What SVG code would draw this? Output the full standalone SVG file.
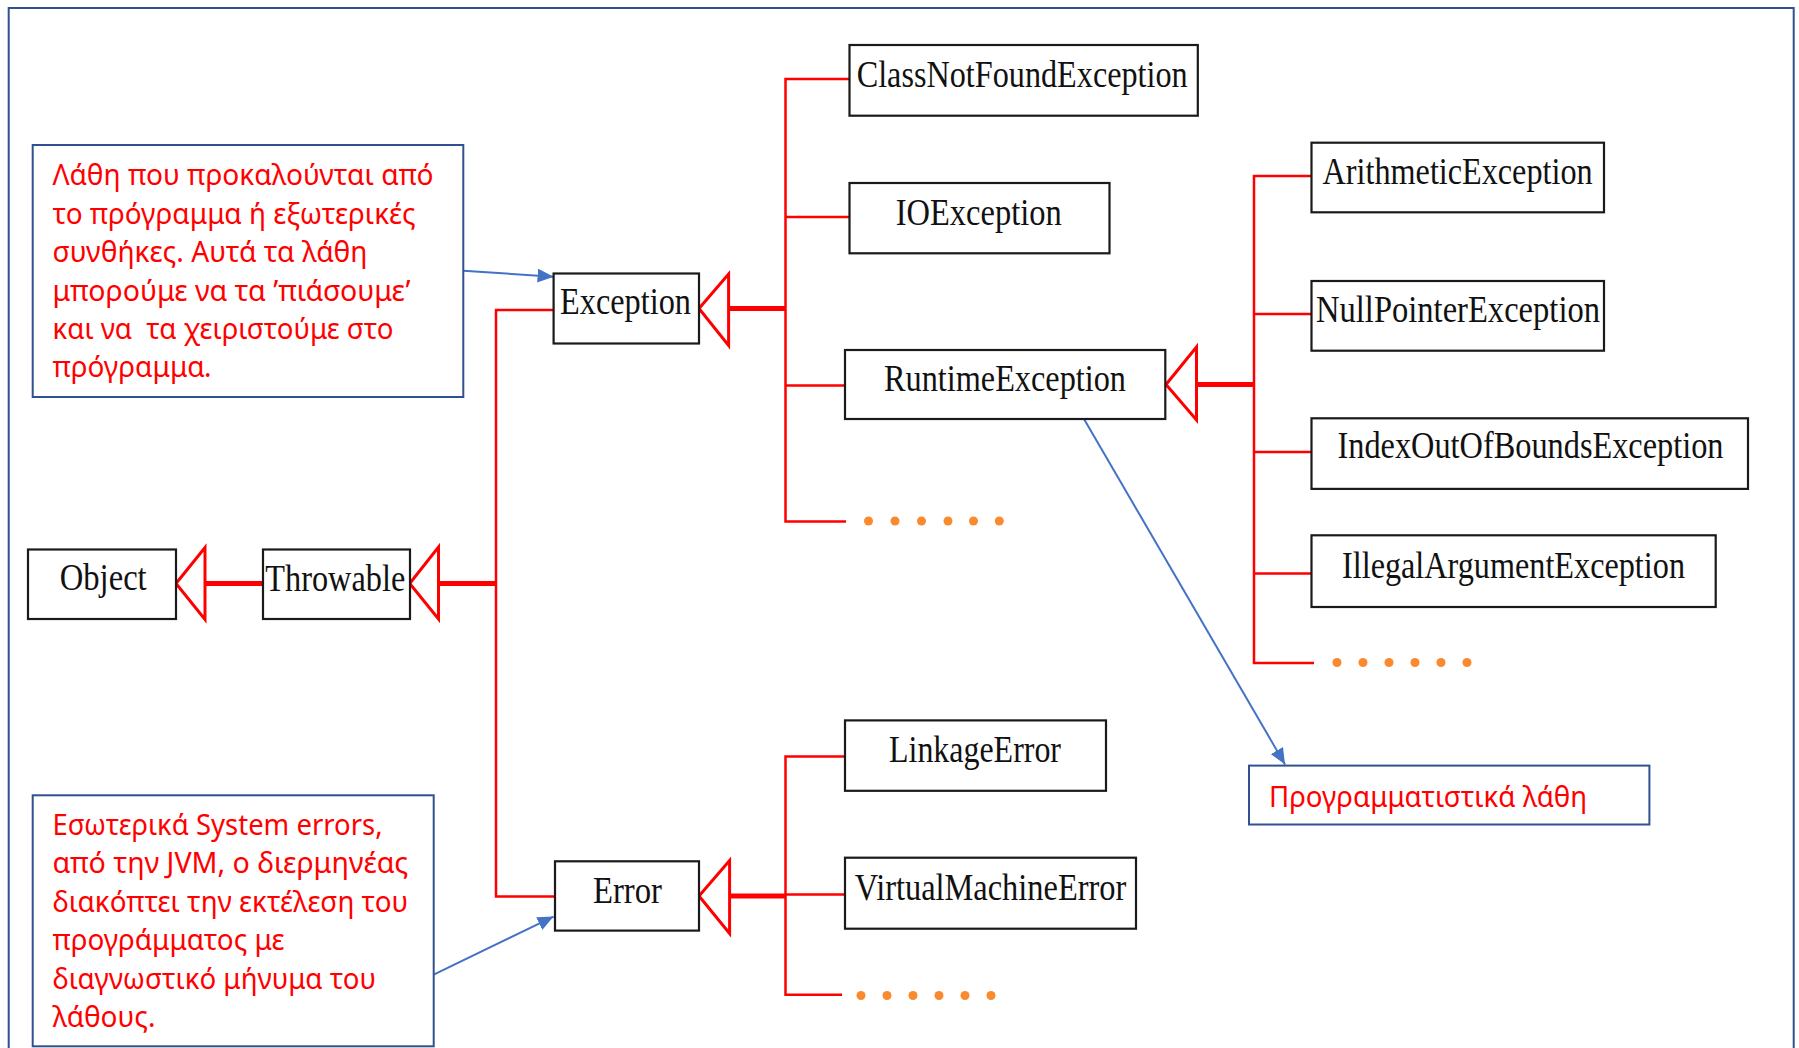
<svg xmlns="http://www.w3.org/2000/svg" width="1799" height="1048" viewBox="0 0 1799 1048">
<style>
.bg{fill:#ffffff}
.frame{fill:none;stroke:#2F528F;stroke-width:2}
.node rect{fill:#ffffff;stroke:#1a1a1a;stroke-width:2.2}
.node text{font-family:"Liberation Serif","Times New Roman",serif;font-size:37px;fill:#111}
.tri{fill:#ffffff;stroke:#FF0000;stroke-width:3;stroke-linejoin:miter}
.thick{stroke:#FF0000;stroke-width:5;fill:none}
.thin{stroke:#FF0000;stroke-width:2.5;fill:none}
.dot{fill:#FA8A2E}
.callout rect{fill:#ffffff;stroke:#2F528F;stroke-width:2}
.callout text{font-family:"Noto Sans","Open Sans","Liberation Sans",sans-serif;font-size:29px;fill:#FF0000}
.blue{stroke:#4472C4;stroke-width:2;fill:none}
</style>
<defs>
<marker id="ah" markerUnits="userSpaceOnUse" markerWidth="18" markerHeight="14" refX="16" refY="7" orient="auto">
<path d="M0,0 L16,7 L0,14 Z" fill="#4472C4"/>
</marker>
</defs>
<rect class="bg" x="0" y="0" width="1799" height="1048"/>
<rect class="frame" x="8.7" y="8" width="1785" height="1100"/>

<g id="connectors">
<polygon class="tri" points="176,583.5 205,547.5 205,619.5"/>
<polygon class="tri" points="409.7,583.5 438.5,547 438.5,619"/>
<polygon class="tri" points="699,308.5 728.6,274 728.6,345.5"/>
<polygon class="tri" points="1166,384.5 1196.5,347 1196.5,420"/>
<polygon class="tri" points="699,896 729.6,860.5 729.6,933.5"/>
<line class="thick" x1="205" y1="583.5" x2="263" y2="583.5"/>
<line class="thick" x1="438.5" y1="583.5" x2="496" y2="583.5"/>
<line class="thick" x1="728.6" y1="308.5" x2="785.5" y2="308.5"/>
<line class="thick" x1="1196.5" y1="384.5" x2="1254" y2="384.5"/>
<line class="thick" x1="729.6" y1="896" x2="785.5" y2="896"/>
<polyline class="thin" points="553.6,310 496,310 496,896.6 555,896.6"/>
<polyline class="thin" points="849.5,79 785.5,79 785.5,521.5 846,521.5"/>
<line class="thin" x1="785.5" y1="217" x2="849.5" y2="217"/>
<line class="thin" x1="785.5" y1="385.5" x2="845" y2="385.5"/>
<polyline class="thin" points="1311.5,176 1254,176 1254,663 1314,663"/>
<line class="thin" x1="1254" y1="314" x2="1311.5" y2="314"/>
<line class="thin" x1="1254" y1="452" x2="1311.5" y2="452"/>
<line class="thin" x1="1254" y1="573.5" x2="1311.5" y2="573.5"/>
<polyline class="thin" points="845,756.4 785.5,756.4 785.5,994.7 842,994.7"/>
<line class="thin" x1="785.5" y1="894.6" x2="845" y2="894.6"/>
<g>
<circle class="dot" cx="868.5" cy="521" r="4.5"/><circle class="dot" cx="895" cy="521" r="4.5"/><circle class="dot" cx="921.5" cy="521" r="4.5"/><circle class="dot" cx="948" cy="521" r="4.5"/><circle class="dot" cx="973.5" cy="521" r="4.5"/><circle class="dot" cx="999.3" cy="521" r="4.5"/>
<circle class="dot" cx="1337" cy="662.5" r="4.5"/><circle class="dot" cx="1363" cy="662.5" r="4.5"/><circle class="dot" cx="1389" cy="662.5" r="4.5"/><circle class="dot" cx="1415" cy="662.5" r="4.5"/><circle class="dot" cx="1441" cy="662.5" r="4.5"/><circle class="dot" cx="1467" cy="662.5" r="4.5"/>
<circle class="dot" cx="861" cy="995.5" r="4.5"/><circle class="dot" cx="887" cy="995.5" r="4.5"/><circle class="dot" cx="913" cy="995.5" r="4.5"/><circle class="dot" cx="939" cy="995.5" r="4.5"/><circle class="dot" cx="965" cy="995.5" r="4.5"/><circle class="dot" cx="991" cy="995.5" r="4.5"/>
</g>
<line class="blue" x1="463.3" y1="270.7" x2="553.6" y2="276.7" marker-end="url(#ah)"/>
<line class="blue" x1="433.7" y1="974.7" x2="553.6" y2="916.6" marker-end="url(#ah)"/>
<line class="blue" x1="1084" y1="419" x2="1285" y2="764.4" marker-end="url(#ah)"/>
</g>

<g id="object" class="node"><rect x="28" y="549.5" width="148" height="69.5"/><text x="59.7" y="590" textLength="87" lengthAdjust="spacingAndGlyphs">Object</text></g>
<g id="throwable" class="node"><rect x="263" y="549.5" width="147" height="69.5"/><text x="265.3" y="591" textLength="140" lengthAdjust="spacingAndGlyphs">Throwable</text></g>
<g id="exception" class="node"><rect x="553.6" y="273.5" width="145.4" height="70"/><text x="560" y="314" textLength="131" lengthAdjust="spacingAndGlyphs">Exception</text></g>
<g id="error" class="node"><rect x="555" y="861.3" width="144" height="69.3"/><text x="593" y="903" textLength="69" lengthAdjust="spacingAndGlyphs">Error</text></g>
<g id="classnotfound" class="node"><rect x="849.5" y="45" width="348.3" height="70.7"/><text x="856.7" y="87" textLength="331" lengthAdjust="spacingAndGlyphs">ClassNotFoundException</text></g>
<g id="ioexception" class="node"><rect x="849.5" y="183" width="260" height="70.3"/><text x="895.7" y="225" textLength="166" lengthAdjust="spacingAndGlyphs">IOException</text></g>
<g id="runtime" class="node"><rect x="845" y="350" width="320.3" height="69"/><text x="884" y="391" textLength="242" lengthAdjust="spacingAndGlyphs">RuntimeException</text></g>
<g id="linkage" class="node"><rect x="845" y="720.4" width="261" height="70.4"/><text x="889" y="762" textLength="172" lengthAdjust="spacingAndGlyphs">LinkageError</text></g>
<g id="vme" class="node"><rect x="845" y="857.7" width="291" height="71"/><text x="854.7" y="899.5" textLength="271.6" lengthAdjust="spacingAndGlyphs">VirtualMachineError</text></g>
<g id="arithmetic" class="node"><rect x="1311.5" y="142.7" width="292.5" height="69.6"/><text x="1322.6" y="184" textLength="270" lengthAdjust="spacingAndGlyphs">ArithmeticException</text></g>
<g id="nullpointer" class="node"><rect x="1311.5" y="281" width="292.5" height="69.7"/><text x="1316" y="322" textLength="284" lengthAdjust="spacingAndGlyphs">NullPointerException</text></g>
<g id="indexoob" class="node"><rect x="1311.5" y="418.3" width="436.5" height="70.6"/><text x="1337.5" y="458" textLength="386" lengthAdjust="spacingAndGlyphs">IndexOutOfBoundsException</text></g>
<g id="illegalarg" class="node"><rect x="1311.5" y="535.3" width="404.2" height="71.7"/><text x="1342" y="578" textLength="343" lengthAdjust="spacingAndGlyphs">IllegalArgumentException</text></g>

<g id="note-exception" class="callout"><rect x="32.7" y="145" width="430.6" height="252"/>
<text x="52.5" y="185" textLength="381" lengthAdjust="spacingAndGlyphs">Λάθη που προκαλούνται από</text>
<text x="52.5" y="223.5" textLength="363" lengthAdjust="spacingAndGlyphs">το πρόγραμμα ή εξωτερικές</text>
<text x="52.5" y="262" textLength="315" lengthAdjust="spacingAndGlyphs">συνθήκες. Αυτά τα λάθη</text>
<text x="52.5" y="300.5" textLength="358" lengthAdjust="spacingAndGlyphs">μπορούμε να τα ’πιάσουμε’</text>
<text x="52.5" y="339" textLength="341" lengthAdjust="spacingAndGlyphs" xml:space="preserve">και να  τα χειριστούμε στο</text>
<text x="52.5" y="377" textLength="159" lengthAdjust="spacingAndGlyphs">πρόγραμμα.</text>
</g>
<g id="note-error" class="callout"><rect x="32.7" y="795.3" width="401" height="251"/>
<text x="52.5" y="834.5" textLength="330" lengthAdjust="spacingAndGlyphs">Εσωτερικά System errors,</text>
<text x="52.5" y="873" textLength="355.6" lengthAdjust="spacingAndGlyphs">από την JVM, ο διερμηνέας</text>
<text x="52.5" y="911.5" textLength="355.6" lengthAdjust="spacingAndGlyphs">διακόπτει την εκτέλεση του</text>
<text x="52.5" y="950" textLength="232" lengthAdjust="spacingAndGlyphs">προγράμματος με</text>
<text x="52.5" y="988.5" textLength="323.5" lengthAdjust="spacingAndGlyphs">διαγνωστικό μήνυμα του</text>
<text x="52.5" y="1027" textLength="103" lengthAdjust="spacingAndGlyphs">λάθους.</text>
</g>
<g id="note-runtime" class="callout"><rect x="1249" y="765.6" width="400.4" height="58.9"/>
<text x="1269" y="806.5" textLength="318" lengthAdjust="spacingAndGlyphs">Προγραμματιστικά λάθη</text>
</g>
</svg>
